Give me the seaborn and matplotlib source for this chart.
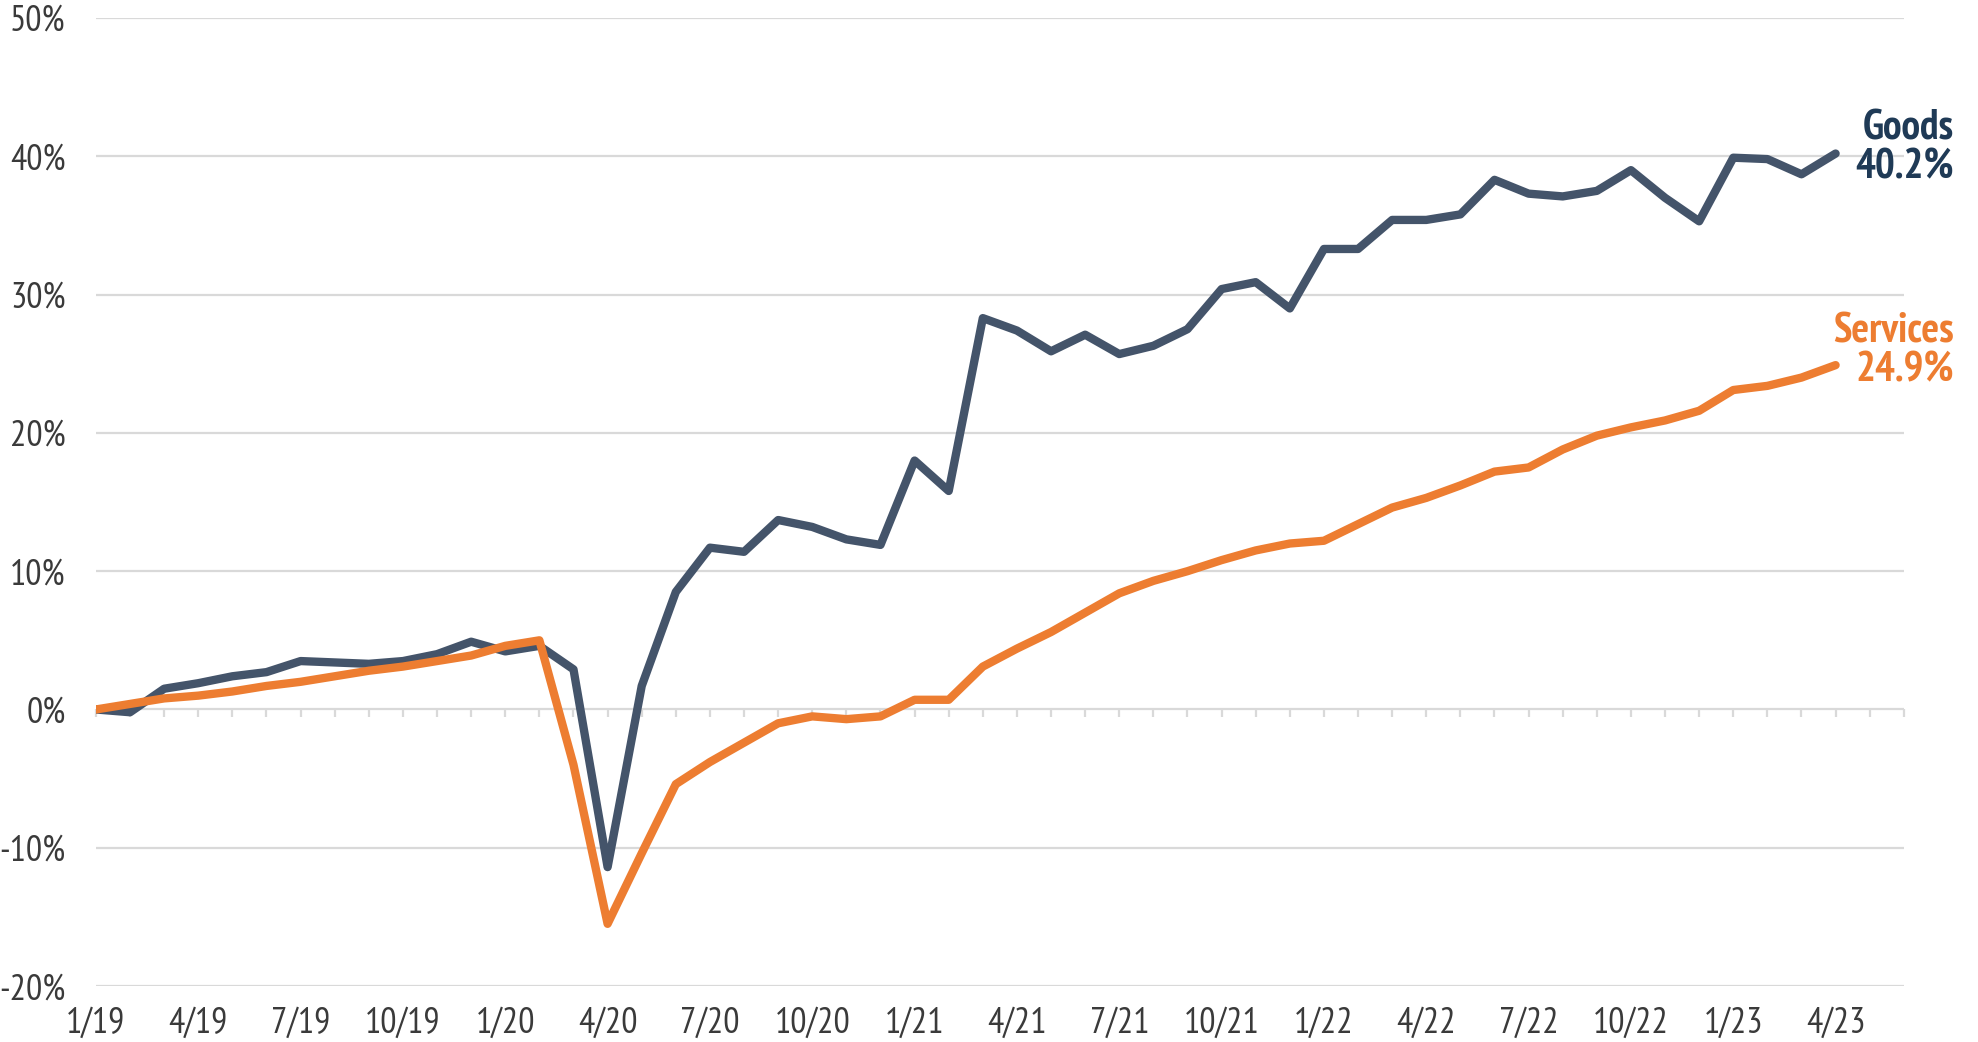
import pandas as pd
import matplotlib
matplotlib.use("Agg")
import matplotlib.pyplot as plt
import seaborn as sns

# --------------------------------------------------
# Data: cumulative change since 1/19, monthly through 4/23
# --------------------------------------------------

months = list(range(52))

goods = [
    0.0, -0.2, 1.5, 1.9, 2.4, 2.7, 3.5, 3.4, 3.3, 3.5, 4.0, 4.9,
    4.2, 4.6, 2.9, -11.4, 1.7, 8.5, 11.7, 11.4, 13.7, 13.2, 12.3, 11.9,
    18.0, 15.8, 28.3, 27.4, 25.9, 27.1, 25.7, 26.3, 27.5, 30.4, 30.9, 29.0,
    33.3, 33.3, 35.4, 35.4, 35.8, 38.3, 37.3, 37.1, 37.5, 39.0, 37.0, 35.3,
    39.9, 39.8, 38.7, 40.2,
]

services = [
    0.0, 0.4, 0.8, 1.0, 1.3, 1.7, 2.0, 2.4, 2.8, 3.1, 3.5, 3.9,
    4.6, 5.0, -4.0, -15.5, -10.4, -5.4, -3.8, -2.4, -1.0, -0.5, -0.7, -0.5,
    0.7, 0.7, 3.1, 4.4, 5.6, 7.0, 8.4, 9.3, 10.0, 10.8, 11.5, 12.0,
    12.2, 13.4, 14.6, 15.3, 16.2, 17.2, 17.5, 18.8, 19.8, 20.4, 20.9, 21.6,
    23.1, 23.4, 24.0, 24.9,
]

tick_months = list(range(0, 52, 3))
tick_labels = [
    "1/19", "4/19", "7/19", "10/19", "1/20", "4/20", "7/20", "10/20", "1/21",
    "4/21", "7/21", "10/21", "1/22", "4/22", "7/22", "10/22", "1/23", "4/23",
]
y_ticks = [-20, -10, 0, 10, 20, 30, 40, 50]

df = pd.DataFrame({
    "Month": months * 2,
    "Change": goods + services,
    "Series": ["Goods"] * len(goods) + ["Services"] * len(services),
})

# --------------------------------------------------
# Plot
# --------------------------------------------------

sns.set_style("white")
condensed = ["PT Sans Narrow", "Asap Condensed", "Barlow Semi Condensed", "DejaVu Sans"]
plt.rcParams["font.family"] = condensed

line_colors = {"Goods": "#44546A", "Services": "#ED7D31"}
label_colors = {"Goods": "#1F3A56", "Services": "#ED7D31"}
grid_color = "#D9D9D9"
text_color = "#3A3A3A"

fig = plt.figure(figsize=(19.78, 10.42), dpi=100)
ax = fig.add_axes([0.0485, 0.0537, 0.914, 0.929])

# gridlines first so the lines sit on top
for v in y_ticks:
    ax.axhline(v, color=grid_color, linewidth=1.6, zorder=0)

sns.lineplot(
    data=df, x="Month", y="Change", hue="Series", palette=line_colors,
    linewidth=6, legend=False, ax=ax, zorder=3,
)
for ln in ax.get_lines():
    ln.set_solid_capstyle("round")
    ln.set_solid_joinstyle("round")

ax.set_xlim(0, 53)
ax.set_ylim(-20, 50)
ax.set_yticks(y_ticks)
ax.set_yticklabels([f"{v}%" for v in y_ticks])
ax.set_xticks(tick_months)
ax.set_xticklabels(tick_labels)
ax.tick_params(axis="both", length=0, labelsize=26, colors=text_color)
ax.tick_params(axis="x", pad=15)
ax.tick_params(axis="y", pad=22)
ax.set_xlabel("")
ax.set_ylabel("")
for s in ax.spines.values():
    s.set_visible(False)

# monthly tick marks hanging off the 0% line
sec = ax.secondary_xaxis(0, transform=ax.transData)
sec.set_xticks(list(range(54)))
sec.tick_params(axis="x", direction="out", length=6, width=1.6,
                color=grid_color, labelbottom=False)
sec.spines["bottom"].set_visible(False)

# end labels, right-aligned just past the plot area
label_y = {"Goods": 40.6, "Services": 25.9}
for name, vals in [("Goods", goods), ("Services", services)]:
    ax.text(
        1.0277, label_y[name], f"{name}\n{vals[-1]:.1f}%",
        transform=ax.get_yaxis_transform(),
        ha="right", va="center", fontsize=30, fontweight="bold",
        color=label_colors[name], linespacing=1.0, clip_on=False,
    )

fig.savefig("out.png", dpi=100)
